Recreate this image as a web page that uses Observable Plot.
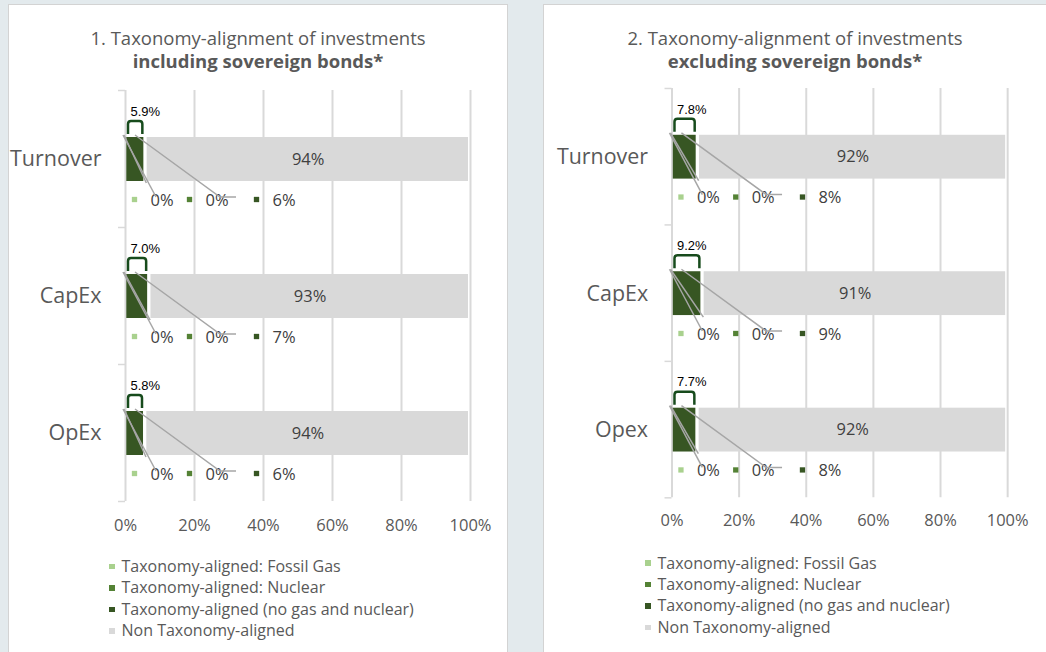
<!DOCTYPE html>
<html>
<head>
<meta charset="utf-8">
<script src="https://cdn.jsdelivr.net/npm/d3@7"></script>
<script src="https://cdn.jsdelivr.net/npm/@observablehq/plot@0.6"></script>
<style>
html,body{margin:0;padding:0;}
body{width:1046px;height:652px;background:#e3eaed;position:relative;overflow:hidden;font-family:"Open Sans",sans-serif;color:#595959;}
.card{position:absolute;top:4px;height:700px;background:#fff;border:1.5px solid #d3d3d3;box-sizing:border-box;}
.title{position:absolute;top:26px;font-size:18.5px;line-height:23px;text-align:center;color:#595959;}
.title b{font-weight:700;}
.chart{position:absolute;top:80px;}
.legend{position:absolute;font-size:16px;line-height:21.4px;color:#595959;}
.legend .row{display:flex;align-items:center;white-space:nowrap;}
.legend .sw{width:5.5px;height:5.5px;margin-right:7px;flex:none;}
</style>
</head>
<body>
<div class="card" style="left:8px;width:500px;"></div>
<div class="card" style="left:543px;width:506px;"></div>
<div class="title" style="left:8px;width:500px;">1. Taxonomy-alignment of investments<br><b>including sovereign bonds*</b></div>
<div class="title" style="left:544px;width:502px;">2. Taxonomy-alignment of investments<br><b>excluding sovereign bonds*</b></div>
<div class="chart" id="c1" style="left:8px;"></div>
<div class="chart" id="c2" style="left:544px;"></div>
<div class="legend" id="l1" style="left:109px;top:556px;"></div>
<div class="legend" id="l2" style="left:645px;top:552.5px;"></div>
<script>
// ---- data ----
const series = [
  "Taxonomy-aligned: Fossil Gas",
  "Taxonomy-aligned: Nuclear",
  "Taxonomy-aligned (no gas and nuclear)",
  "Non Taxonomy-aligned"
];
const seriesColors = ["#a9d18e", "#548235", "#375623", "#d9d9d9"];
const xTicks = [0, 20, 40, 60, 80, 100];

// Panel 1: including sovereign bonds
const categories1 = ["Turnover", "CapEx", "OpEx"];
const fossilGas1 = [0, 0, 0];
const nuclear1 = [0, 0, 0];
const aligned1 = [5.9, 7.0, 5.8];
const nonAligned1 = [94.1, 93.0, 94.2];

// Panel 2: excluding sovereign bonds
const categories2 = ["Turnover", "CapEx", "Opex"];
const fossilGas2 = [0, 0, 0];
const nuclear2 = [0, 0, 0];
const aligned2 = [7.8, 9.2, 7.7];
const nonAligned2 = [92.2, 90.8, 92.3];

// ---- drawing ----
const keyOffsets = [9, 64, 131];
const keyFields = ["gas", "nuc", "aligned"];

function overlay(rows, cats) {
  return (index, scales) => {
    const x = scales.x, y = scales.y;
    const bw = y.bandwidth(), step = y.step();
    const g = d3.create("svg:g");
    const x0 = x(0);
    const bounds = cats.map(c => y(c) + bw / 2 - step / 2);
    bounds.push(y(cats[cats.length - 1]) + bw / 2 + step / 2);
    bounds.forEach(b => {
      g.append("line").attr("x1", x0 - 7).attr("x2", x0).attr("y1", b).attr("y2", b)
        .attr("stroke", "#d9d9d9").attr("stroke-width", 1.5);
    });
    rows.forEach(r => {
      const top = y(r.cat), bottom = top + bw, yc = top + bw / 2;
      const a = x(r.gas + r.nuc), b = x(r.gas + r.nuc + r.aligned);
      const bx1 = a + 3, bx2 = b - 3, by1 = top - 3, by2 = top - 16, rr = 3;
      g.append("path")
        .attr("d", `M${bx1},${by1}V${by2 + rr}Q${bx1},${by2} ${bx1 + rr},${by2}H${bx2 - rr}Q${bx2},${by2} ${bx2},${by2 + rr}V${by1}`)
        .attr("fill", "none").attr("stroke", "#174b1c").attr("stroke-width", 2.5);
      const lc = "#a6a6a6";
      g.append("path").attr("d", `M${x0 - 2},${top - 2}L${x0 + 31},${yc + 38}`)
        .attr("fill", "none").attr("stroke", lc).attr("stroke-width", 1.5);
      g.append("path").attr("d", `M${x0 - 1},${top - 2}L${b + 1},${bottom + 2}`)
        .attr("fill", "none").attr("stroke", lc).attr("stroke-width", 1.5);
      g.append("path").attr("d", `M${x0 + 10},${top - 2}L${x0 + 95},${yc + 38}H${x0 + 111}`)
        .attr("fill", "none").attr("stroke", lc).attr("stroke-width", 1.5);
    });
    return g.node();
  };
}

function panel(cats, gas, nuc, aligned, non, width, ml, mr, mt, frameH, tickPad) {
  const rows = cats.map((c, i) => ({cat: c, gas: gas[i], nuc: nuc[i], aligned: aligned[i], non: non[i]}));
  const stack = [];
  rows.forEach(r => {
    stack.push({cat: r.cat, series: series[0], value: r.gas});
    stack.push({cat: r.cat, series: series[1], value: r.nuc});
    stack.push({cat: r.cat, series: series[2], value: r.aligned});
    stack.push({cat: r.cat, series: series[3], value: r.non});
  });
  const height = 460;
  const marks = [
    Plot.ruleX(xTicks, {stroke: "#d9d9d9", strokeWidth: 2}),
    Plot.barX(stack, Plot.stackX({x: "value", y: "cat", fill: "series", order: series, insetLeft: 1.3, insetRight: 2})),
    Plot.text(rows, {x: d => d.gas + d.nuc + d.aligned + d.non / 2, y: "cat", text: d => Math.round(d.non) + "%", fontSize: 16.5, fill: "#404040"}),
    Plot.text(rows, {x: () => 0, y: "cat", dx: -24, textAnchor: "end", text: "cat", fontSize: 21.5, fill: "#595959"}),
    Plot.text(rows, {x: d => d.gas + d.nuc, y: "cat", dx: 5, dy: -48, textAnchor: "start", text: d => d.aligned.toFixed(1) + "%", fontFamily: "Liberation Sans", fontSize: 13, fill: "#000"})
  ];
  keyFields.forEach((k, i) => {
    marks.push(Plot.dot(rows, {x: () => 0, y: "cat", dx: keyOffsets[i], dy: 40, symbol: "square", r: 3, fill: seriesColors[i], stroke: "none"}));
    marks.push(Plot.text(rows, {x: () => 0, y: "cat", dx: keyOffsets[i] + 16, dy: 41, textAnchor: "start", text: d => Math.round(d[k]) + "%", fontSize: 16.5, fill: "#404040"}));
  });
  marks.push(overlay(rows, cats));
  return Plot.plot({
    width, height,
    marginLeft: ml, marginRight: mr, marginTop: mt, marginBottom: height - mt - frameH,
    style: {fontFamily: "Open Sans", fontSize: "16.5px", color: "#595959", background: "transparent", overflow: "visible"},
    x: {domain: [0, 100], ticks: xTicks, tickFormat: d => d + "%", tickSize: 0, tickPadding: tickPad, label: null},
    y: {domain: cats, paddingInner: 0.68, paddingOuter: 0.34, axis: null},
    color: {domain: series, range: seriesColors},
    marks
  });
}

document.getElementById("c1").appendChild(
  panel(categories1, fossilGas1, nuclear1, aligned1, nonAligned1, 500, 117, 38, 10, 411, 18));
document.getElementById("c2").appendChild(
  panel(categories2, fossilGas2, nuclear2, aligned2, nonAligned2, 504, 128, 39, 8, 411, 17));

function legend(id) {
  const el = d3.select("#" + id);
  series.forEach((s, i) => {
    const row = el.append("div").attr("class", "row");
    row.append("span").attr("class", "sw").style("background", seriesColors[i]);
    row.append("span").text(s);
  });
}
legend("l1");
legend("l2");
</script>
</body>
</html>
